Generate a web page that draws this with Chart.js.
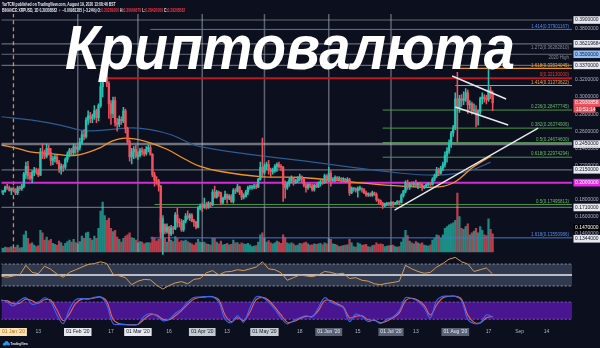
<!DOCTYPE html>
<html>
<head>
<meta charset="utf-8">
<script src="https://cdn.jsdelivr.net/npm/chart.js@4.4.0/dist/chart.umd.min.js"></script>
<style>
  html, body { margin: 0; padding: 0; background: #0b0f1e; }
  canvas { display: block; }
</style>
</head>
<body>
<canvas id="chart" width="600" height="348"></canvas>
<script>
// XRPUSD daily, 26 Dec 2019 .. 19 Aug 2020 (day 0 = 1 Jan 2020)
const firstDay = -6;

const open = [
  .190,.189,.190,.195,.194,.191,
  .193,.192,.188,.194,.193,.196,.210,.219,.208,.205,.212,.214,.213,.209,.236,.234,.231,.240,.235,.226,.228,.230,.224,.216,.219,.218,.227,.233,.238,.235,.242,
  .239,.241,.247,.256,.254,.273,.278,.275,.277,.284,.276,.290,.312,.322,.334,.316,.292,.281,.296,.270,.268,.274,.272,.284,.263,.248,.230,.236,.239,
  .231,.232,.238,.236,.234,.239,.241,.233,.209,.203,.202,.196,.142,.151,.143,.148,.140,.147,.146,.162,.154,.153,.145,.155,.161,.159,.162,.155,.154,.148,.170,
  .173,.172,.174,.171,.176,.174,.189,.183,.189,.188,.177,.182,.186,.182,.184,.178,.191,.190,.195,.189,.183,.184,.189,.194,.194,.195,.196,.195,.204,.218,
  .212,.219,.221,.215,.213,.214,.219,.221,.219,.218,.198,.194,.199,.203,.205,.200,.202,.204,.207,.204,.197,.194,.198,.196,.192,.197,.195,.199,.201,.200,.208,
  .202,.211,.203,.204,.206,.204,.205,.204,.204,.202,.204,.188,.193,.193,.191,.193,.193,.192,.188,.186,.186,.185,.188,.186,.180,.179,.176,.173,.175,.176,
  .175,.177,.175,.176,.178,.177,.185,.190,.200,.195,.199,.198,.199,.197,.199,.198,.194,.196,.198,.199,.198,.204,.208,.215,.211,.217,.221,.232,.237,.246,.258,
  .264,.298,.288,.298,.296,.298,.305,.291,.292,.284,.285,.279,.283,.298,.300,.298,.297,.308,.303
];
const high = [
  .192,.191,.196,.198,.196,.194,
  .195,.193,.196,.196,.198,.212,.224,.225,.212,.214,.218,.217,.216,.240,.246,.238,.245,.244,.240,.231,.233,.232,.226,.222,.221,.229,.236,.240,.240,.245,.244,
  .243,.252,.260,.262,.276,.284,.282,.280,.290,.286,.292,.318,.332,.340,.345,.318,.296,.300,.300,.275,.278,.277,.288,.286,.265,.250,.240,.242,.244,
  .236,.240,.241,.239,.242,.244,.244,.234,.212,.207,.204,.197,.158,.152,.152,.149,.150,.149,.165,.170,.158,.157,.156,.164,.167,.164,.164,.157,.155,.172,.175,
  .176,.182,.177,.178,.177,.192,.196,.191,.190,.189,.183,.190,.187,.186,.186,.193,.193,.198,.196,.191,.187,.191,.196,.197,.197,.198,.198,.205,.224,.252,
  .222,.224,.226,.217,.217,.221,.223,.224,.221,.219,.202,.201,.205,.208,.206,.204,.207,.210,.208,.205,.199,.199,.199,.198,.198,.199,.201,.203,.203,.210,.209,
  .218,.214,.206,.208,.207,.207,.206,.206,.205,.206,.205,.195,.194,.194,.195,.196,.194,.193,.190,.188,.188,.190,.189,.188,.181,.180,.177,.176,.177,.177,
  .178,.178,.177,.179,.179,.187,.191,.202,.203,.200,.201,.201,.203,.200,.200,.199,.197,.199,.200,.200,.206,.210,.218,.217,.219,.224,.236,.241,.250,.260,.267,
  .305,.329,.302,.303,.306,.310,.308,.296,.294,.292,.290,.285,.300,.305,.303,.302,.336,.312,.307
];
const low = [
  .187,.186,.189,.192,.190,.186,
  .190,.186,.186,.191,.191,.194,.205,.204,.203,.200,.208,.210,.207,.208,.228,.228,.229,.232,.220,.221,.224,.222,.212,.210,.213,.216,.224,.230,.232,.232,.234,
  .236,.238,.245,.250,.252,.268,.270,.270,.274,.270,.272,.288,.300,.318,.312,.275,.268,.276,.266,.260,.265,.268,.270,.258,.245,.225,.222,.228,.229,
  .227,.230,.232,.231,.232,.236,.232,.207,.196,.198,.190,.135,.116,.140,.141,.132,.138,.140,.145,.148,.148,.143,.143,.153,.157,.156,.154,.149,.146,.147,.168,
  .166,.170,.169,.170,.171,.173,.182,.182,.184,.174,.175,.180,.176,.180,.177,.176,.187,.189,.186,.180,.181,.183,.186,.192,.192,.193,.193,.194,.203,.206,
  .210,.215,.210,.207,.210,.212,.213,.217,.214,.178,.182,.192,.196,.200,.197,.199,.200,.202,.200,.195,.189,.192,.194,.190,.190,.194,.194,.196,.198,.199,.200,
  .201,.196,.201,.201,.202,.203,.200,.202,.200,.201,.185,.187,.190,.189,.183,.191,.189,.187,.184,.184,.184,.184,.185,.178,.175,.174,.170,.172,.173,.173,
  .173,.172,.174,.175,.174,.176,.183,.188,.192,.192,.196,.195,.195,.193,.195,.191,.193,.195,.196,.196,.197,.202,.206,.208,.210,.214,.218,.224,.234,.241,.254,
  .262,.248,.282,.289,.291,.295,.281,.286,.280,.281,.265,.267,.280,.292,.294,.292,.295,.298,.284
];
const close = [
  .189,.190,.195,.194,.191,.193,
  .192,.188,.194,.193,.196,.210,.219,.208,.205,.212,.214,.213,.209,.236,.234,.231,.240,.235,.226,.228,.230,.224,.216,.219,.218,.227,.233,.238,.235,.242,.239,
  .241,.247,.256,.254,.273,.278,.275,.277,.284,.276,.290,.312,.322,.334,.316,.292,.281,.296,.270,.268,.274,.272,.284,.263,.248,.230,.236,.239,.231,
  .232,.238,.236,.234,.239,.241,.233,.209,.203,.202,.196,.142,.151,.143,.148,.140,.147,.146,.162,.154,.153,.145,.155,.161,.159,.162,.155,.154,.148,.170,.173,
  .172,.174,.171,.176,.174,.189,.183,.189,.188,.177,.182,.186,.182,.184,.178,.191,.190,.195,.189,.183,.184,.189,.194,.194,.195,.196,.195,.204,.218,.212,
  .219,.221,.215,.213,.214,.219,.221,.219,.218,.198,.194,.199,.203,.205,.200,.202,.204,.207,.204,.197,.194,.198,.196,.192,.197,.195,.199,.201,.200,.208,.202,
  .211,.203,.204,.206,.204,.205,.204,.204,.202,.204,.188,.193,.193,.191,.193,.193,.192,.188,.186,.186,.185,.188,.186,.180,.179,.176,.173,.175,.176,.175,
  .177,.175,.176,.178,.177,.185,.190,.200,.195,.199,.198,.199,.197,.199,.198,.194,.196,.198,.199,.198,.204,.208,.215,.211,.217,.221,.232,.237,.246,.258,.264,
  .298,.288,.298,.296,.298,.305,.291,.292,.284,.285,.279,.283,.298,.300,.298,.297,.308,.303,.293
];
// volume, millions XRP
const volume = [
  90,80,110,100,95,120,
  80,110,150,90,100,380,460,300,180,200,150,120,140,480,420,260,330,250,280,190,170,150,240,200,130,190,230,260,220,280,210,
  180,230,350,300,420,440,300,260,350,300,520,900,1100,800,700,750,520,450,480,330,280,220,300,350,380,420,320,300,260,
  200,230,220,180,200,210,200,330,300,240,280,750,800,300,220,320,260,230,340,300,220,250,240,260,230,200,180,150,200,280,220,
  200,220,180,170,150,300,300,220,180,240,160,170,190,160,170,260,200,210,170,200,180,170,190,160,120,130,140,220,380,420,
  300,220,250,200,180,200,240,220,190,380,320,200,180,200,180,140,150,190,180,200,220,180,150,160,180,170,180,190,160,200,180,
  300,280,180,170,150,120,130,140,150,160,280,200,120,110,200,180,150,160,170,120,110,140,150,200,170,180,170,120,130,140,
  140,150,120,110,120,220,300,480,360,240,200,180,230,200,180,200,150,140,130,160,260,300,380,360,300,380,520,560,600,620,640,
  700,1300,780,520,500,560,620,380,420,460,520,420,560,480,380,360,730,500,400
];

// moving averages, read at sample days
const maFastDays = [-6, 2, 8, 18, 30, 42, 47, 54, 64, 74, 83, 90, 100, 119, 139, 162, 187, 205, 213, 221, 230];
const maFast = [.244, .240, .236, .234, .232, .241, .248, .252, .248, .239, .227, .219, .213, .207, .206, .201, .196, .195, .201, .217, .231];
const maSlowDays = [-6, 9, 23, 33, 42, 57, 66, 76, 90, 138, 187, 207, 220, 230];
const maSlow = [.277, .273, .267, .261, .261, .264, .262, .256, .242, .226, .211, .209, .214, .224];

// RSI and stoch RSI, every 3rd day from day -6
const rsi = [47,45,48,50,72,56,53,70,63,52, 45,56,62,68,74,76,80,76,52,48, 44,28,36,40,39,27,18,26,32,35,
             30,40,42,55,60,50,57,58,62,60, 64,68,80,64,62,55,38,44,50,48, 46,50,58,56,52,54,42,44,38,36,
             30,28,31,33,36,72,64,58,54,56, 68,76,86,90,80,75,58,62,66,52];
const stochK = [88,80,66,85,95,72,78,95,80,35, 5,55,88,92,90,96,98,70,5,2, 1,0,3,30,40,32,15,20,40,55,
                80,96,97,99,98,80,20,8,32,10, 60,98,96,80,55,25,4,15,25,32, 28,60,95,80,70,60,12,38,30,12,
                18,5,20,28,50,95,92,82,60,25, 85,100,100,100,85,20,5,8,35,28];
const stochD = [85,84,74,76,90,84,76,88,86,52, 15,38,75,90,91,94,97,82,20,4, 2,1,2,20,36,35,20,18,32,50,
                72,90,96,98,98,88,35,12,25,16, 45,88,96,86,62,35,10,12,22,30, 30,50,85,85,74,63,25,30,32,18,
                16,8,14,25,42,85,93,86,68,35, 70,95,100,100,90,35,10,7,25,30];

// drawn horizontal levels
const levelPrice = [.39, .379, .3622, .35, .337, .3335, .322, .3135, .2848, .2637, .245, .2467, .2297, .215, .20, .1745, .171, .1355];
const levelFrom  = [-6, 66, -6, -6, -6, 213, 45, 213, 178, 178, -6, 178, 178, -6, -6, 68, -6, 66];
const levelKind  = ['gray','blue','gray','gray','gray','orange','red','orange','green','green','grayBold','green','green','gray','magenta','green','gray','blue'];
const levelText  = ['', '1.414(0.37901167)', '1.272(0.36282810)', '2020 High', '', '1.618(0.33534045)', '0(0.32130000)', '1.414(0.31373622)',
                    '0.236(0.28477745)', '0.382(0.26374906)', '', '0.5(0.24674600)', '0.618(0.22974294)', '', '', '0.5(0.17495813)', '', '1.618(0.13550986)'];

// trend lines [day, price] pairs
const trendFrom = [[183.7, .168], [211.5, .3246], [213, .2884]];
const trendTo   = [[252.9, .2638], [237.5, .2977], [238.5, .2673]];

// vertical month markers
const monthDays = [31, 60, 91, 121, 152, 182];
const yearStart = 0;

// axis labels
const timeTicks = [0, 12, 31, 47, 60, 75, 91, 103, 121, 138, 152, 166, 182, 194, 213, 229, 244, 257];
const timeLabels = ["01 Jan '20", '13', "01 Feb '20", '17', "01 Mar '20", '16', "01 Apr '20", '13', "01 May '20", '18',
                    "01 Jun '20", '15', "01 Jul '20", '13', "01 Aug '20", '17', 'Sep', '14'];
const timeKinds = ['jan','','white','','white','','light','','light','','dark','','dark','','dark','','',''];

const priceTicks = [.39, .38, .3622, .35, .337, .32, .30, .29308582, .28, .26, .245, .24, .22, .215, .20, .18, .171, .16, .147, .14, .1344];
const priceLabels = ['0.3900000','0.3800000','0.36219684','0.3500000','0.3370000','0.3200000','0.3000000','0.2930858','0.2800000','0.2600000',
                     '0.2450000','0.2400000','0.2200000','0.2150000','0.2000000','0.1800000','0.1710000','0.1600000','0.1470000','0.1400000','0.1344000'];
const priceKinds = ['white','plain','white','blue','white','plain','plain','red','plain','plain',
                    'white','plain','plain','white','magenta','plain','white','plain','black','plain','white'];
const countdown = '10:51:14';

const rsiTicks = [100, 75, 50, 25];
const rsiKinds = ['plain', 'plain', 'white', 'plain'];
const stochTicks = [80, 40, 0];

// ---------- styling / layout ----------
const FONT = '"Liberation Sans", Arial, sans-serif';
const BG = '#0b0f1e';
const UP = '#25c2b2', DOWN = '#f1505d';
const TOP = 14, BOTTOM = 327;

Chart.defaults.font.family = FONT;
Chart.defaults.font.size = 5;
Chart.defaults.color = '#b2b5be';

// value range that puts vHi at pixel yHi and vLo at yLo
function fitRange(vHi, yHi, vLo, yLo) {
  const k = (yLo - yHi) / (vHi - vLo);
  return { min: vLo - (BOTTOM - yLo) / k, max: vHi + (yHi - TOP) / k };
}
const dayPx = (455 - 12) / 213;
const X_MIN = -12 / dayPx, X_MAX = 213 + (572 - 455) / dayPx;
const priceRange = fitRange(0.39, 20, 0.14, 234);
const volRange = fitRange(1300, 193, 0, 252);
const rsiRange = fitRange(100, 253, 25, 286);
const stochRange = fitRange(80, 302, 0, 325);

const boxStyle = {
  plain:   { fg: '#b2b5be', bg: null },
  white:   { fg: '#131722', bg: '#e6e8ee' },
  blue:    { fg: '#0d1b3a', bg: '#8fbcf5' },
  red:     { fg: '#ffffff', bg: '#f0525f' },
  magenta: { fg: '#ffffff', bg: '#e62ce8' },
  black:   { fg: '#ffffff', bg: '#000000' },
  jan:     { fg: '#b86a10', bg: '#fbe3b8' },
  light:   { fg: '#131722', bg: '#c6cad3' },
  dark:    { fg: '#e6e8ee', bg: '#5b6477' },
  '':      { fg: '#b2b5be', bg: null }
};
const lineStyle = {
  gray:     { color: 'rgba(178,181,190,0.55)', width: 1.2, text: '#8a8e99' },
  grayBold: { color: 'rgba(178,181,190,0.6)', width: 2.5, text: '#8a8e99' },
  blue:     { color: '#3b7ad6', width: 1, text: '#4f8fe8' },
  orange:   { color: '#e3962a', width: 1.2, text: '#f3a53a' },
  red:      { color: '#c0161e', width: 2, text: '#ef3b3b' },
  green:    { color: '#4b9a47', width: 1, text: '#66bb6a' },
  magenta:  { color: '#d62ad9', width: 2, text: '#e040fb' }
};

const days = open.map((_, i) => firstDay + i);
const sampleDays = rsi.map((_, i) => firstDay + 3 * i);
const isUp = i => close[i] >= open[i];
const flat = v => [{ x: -10, y: v }, { x: 280, y: v }];
const lineDs = (data, color, width, order, extra) => Object.assign({
  type: 'line', yAxisID: 'y', data, borderColor: color, borderWidth: width, pointRadius: 0, fill: false, order
}, extra || {});

const datasets = [];

// RSI band
datasets.push(lineDs(flat(75), 'rgba(200,205,215,0.65)', 1, 100, { yAxisID: 'rsi', borderDash: [2, 2] }));
datasets.push(lineDs(flat(25), 'rgba(200,205,215,0.65)', 1, 101, { yAxisID: 'rsi', borderDash: [2, 2], fill: '-1', backgroundColor: 'rgba(86,100,126,0.5)' }));
datasets.push(lineDs(flat(50), '#e8eaf0', 1.5, 99, { yAxisID: 'rsi' }));
// stoch band
datasets.push(lineDs(flat(80), 'rgba(180,185,200,0.5)', 1, 100, { yAxisID: 'stoch', borderDash: [2, 2] }));
datasets.push(lineDs(flat(20), 'rgba(180,185,200,0.5)', 1, 101, { yAxisID: 'stoch', borderDash: [2, 2], fill: '-1', backgroundColor: '#4a1590' }));

// volume
datasets.push({
  type: 'bar', yAxisID: 'vol', order: 90, grouped: false, barThickness: 1.6, borderWidth: 0,
  data: days.map((d, i) => ({ x: d, y: volume[i] })),
  backgroundColor: c => isUp(c.dataIndex) ? 'rgba(34,170,158,0.8)' : 'rgba(230,72,86,0.8)'
});

// vertical markers
monthDays.forEach(d => datasets.push(lineDs([{ x: d, y: 0.398 }, { x: d, y: 0.119 }], 'rgba(160,165,178,0.55)', 1.5, 85)));
datasets.push(lineDs([{ x: yearStart, y: 0.398 }, { x: yearStart, y: 0.119 }], '#c98a5c', 1.3, 85, { borderDash: [4, 3] }));

// horizontal levels
levelPrice.forEach((p, i) => {
  const s = lineStyle[levelKind[i]];
  datasets.push(lineDs([{ x: levelFrom[i], y: p }, { x: 280, y: p }], s.color, s.width, 80));
});

// moving averages
datasets.push(lineDs(maSlowDays.map((d, i) => ({ x: d, y: maSlow[i] })), '#2c5c93', 1.2, 70, { tension: 0.4 }));
datasets.push(lineDs(maFastDays.map((d, i) => ({ x: d, y: maFast[i] })), '#f39422', 1.3, 69, { tension: 0.4 }));

// candles
datasets.push({
  type: 'bar', yAxisID: 'y', order: 60, grouped: false, barThickness: 0.9, borderWidth: 0,
  data: days.map((d, i) => ({ x: d, y: [low[i], high[i]] })),
  backgroundColor: c => isUp(c.dataIndex) ? UP : DOWN
});
datasets.push({
  type: 'bar', yAxisID: 'y', order: 55, grouped: false, barThickness: 1.7, borderWidth: 0, minBarLength: 0.8,
  data: days.map((d, i) => ({ x: d, y: [open[i], close[i]] })),
  backgroundColor: c => isUp(c.dataIndex) ? UP : DOWN
});

// trend lines
trendFrom.forEach((a, i) => datasets.push(lineDs([{ x: a[0], y: a[1] }, { x: trendTo[i][0], y: trendTo[i][1] }], '#e9eaee', 1.4, 50)));

// oscillators
datasets.push(lineDs(sampleDays.map((d, i) => ({ x: d, y: rsi[i] })), '#d69a55', 1, 40, { yAxisID: 'rsi' }));
datasets.push(lineDs(sampleDays.map((d, i) => ({ x: d, y: stochD[i] })), '#f2604e', 1.1, 41, { yAxisID: 'stoch', tension: 0.35 }));
datasets.push(lineDs(sampleDays.map((d, i) => ({ x: d, y: stochK[i] })), '#2f6bff', 1.1, 40, { yAxisID: 'stoch', tension: 0.35 }));

// ---------- axes ----------
function labelAxis(range, ticks, labels, kinds, width, weight) {
  return {
    position: 'right', weight, min: range.min, max: range.max, bounds: 'data',
    grid: { display: false, drawTicks: false }, border: { display: false },
    afterFit: s => { s.width = width; },
    afterBuildTicks: s => { s.ticks = ticks.map(v => ({ value: v })); },
    ticks: {
      autoSkip: false, padding: 3, font: { size: 5 },
      callback: (v, i) => labels[i],
      color: c => boxStyle[kinds[c.index]].fg,
      showLabelBackdrop: c => !!boxStyle[kinds[c.index]].bg,
      backdropColor: c => boxStyle[kinds[c.index]].bg || 'rgba(0,0,0,0)',
      backdropPadding: { x: 1.5, y: 0.8 }
    }
  };
}

const bgPlugin = {
  id: 'bg',
  beforeDraw(chart) {
    const { ctx, width, height } = chart;
    ctx.save();
    ctx.fillStyle = BG;
    ctx.fillRect(0, 0, width, height);
    ctx.restore();
  }
};

// draw text squeezed horizontally, the way the small TradingView captions look
function squeezed(ctx, text, x, y, sx) {
  ctx.save();
  ctx.translate(x, y);
  ctx.scale(sx, 1);
  ctx.fillText(text, 0, 0);
  const w = ctx.measureText(text).width * sx;
  ctx.restore();
  return w;
}

const textPlugin = {
  id: 'texts',
  afterDraw(chart) {
    const { ctx, chartArea } = chart;
    const ys = chart.scales.y;
    ctx.save();

    // level captions
    ctx.font = `4.5px ${FONT}`;
    ctx.textAlign = 'right';
    levelPrice.forEach((p, i) => {
      if (!levelText[i]) return;
      const y = ys.getPixelForValue(p);
      const below = levelKind[i].startsWith('gray');
      ctx.fillStyle = lineStyle[levelKind[i]].text;
      ctx.textBaseline = below ? 'top' : 'bottom';
      ctx.fillText(levelText[i], chartArea.right - 3, below ? y + 1.5 : y - 0.8);
    });

    // countdown under the last price
    const yLast = ys.getPixelForValue(close[close.length - 1]) + 6.5;
    ctx.fillStyle = boxStyle.red.bg;
    ctx.fillRect(chartArea.right + 1.5, yLast - 3, 22, 6);
    ctx.fillStyle = '#fff';
    ctx.font = `5px ${FONT}`;
    ctx.textAlign = 'left';
    ctx.textBaseline = 'middle';
    ctx.fillText(countdown, chartArea.right + 4, yLast);

    // header
    ctx.textBaseline = 'middle';
    ctx.font = `bold 4.6px ${FONT}`;
    ctx.fillStyle = '#e8eaf0';
    squeezed(ctx, 'YarTCM published on TradingView.com, August 19, 2020 13:08:46 BST', 2, 4.5, 0.74);
    const segs = [
      ['BINANCE:XRPUSD, 1D 0.29308582 ', '#e8eaf0'], ['\u25BC', '#f23645'], [' \u22120.00981285 (\u22123.24%) O:', '#e8eaf0'],
      ['0.30289000', '#f23645'], [' H:', '#e8eaf0'], ['0.30666670', '#f23645'], [' L:', '#e8eaf0'],
      ['0.28420000', '#f23645'], [' C:', '#e8eaf0'], ['0.29308582', '#f23645']
    ];
    let x = 2;
    segs.forEach(([t, c]) => {
      ctx.fillStyle = c;
      x += squeezed(ctx, t, x, 10.5, 0.73);
    });

    // logo
    ctx.fillStyle = '#2196f3';
    [[4.5, 344.2, 1.6], [6.6, 342.9, 2], [8.5, 344.2, 1.4]].forEach(([cx, cy, r]) => {
      ctx.beginPath(); ctx.arc(cx, cy, r, 0, Math.PI * 2); ctx.fill();
    });
    ctx.fillStyle = '#e8eaf0';
    ctx.font = `bold 4.2px ${FONT}`;
    squeezed(ctx, 'TradingView', 10.5, 343.8, 0.7);

    // big title
    const title = '\u041A\u0440\u0438\u043F\u0442\u043E\u0432\u0430\u043B\u044E\u0442\u0430';
    ctx.font = `italic bold 63px ${FONT}`;
    const w = ctx.measureText(title).width;
    ctx.translate(65, 69);
    ctx.scale(450 / w, 1);
    ctx.fillStyle = '#ffffff';
    ctx.textAlign = 'left';
    ctx.textBaseline = 'alphabetic';
    ctx.fillText(title, 0, 0);

    ctx.restore();
  }
};

new Chart(document.getElementById('chart'), {
  type: 'line',
  data: { datasets },
  options: {
    responsive: false,
    animation: false,
    devicePixelRatio: 1,
    layout: { padding: { top: TOP, left: 0, right: 0, bottom: 0 } },
    plugins: { legend: { display: false }, tooltip: { enabled: false } },
    elements: { point: { radius: 0 } },
    scales: {
      x: {
        type: 'linear', min: X_MIN, max: X_MAX, offset: false, bounds: 'data',
        grid: { display: false, drawTicks: false }, border: { display: false },
        afterFit: s => { s.height = 348 - BOTTOM; },
        afterBuildTicks: s => { s.ticks = timeTicks.map(v => ({ value: v })); },
        ticks: {
          autoSkip: false, maxRotation: 0, padding: 2, font: { size: 5 },
          callback: (v, i) => timeLabels[i],
          color: c => boxStyle[timeKinds[c.index]].fg,
          showLabelBackdrop: c => !!boxStyle[timeKinds[c.index]].bg,
          backdropColor: c => boxStyle[timeKinds[c.index]].bg || 'rgba(0,0,0,0)',
          backdropPadding: { x: 2, y: 1 }
        }
      },
      y: labelAxis(priceRange, priceTicks, priceLabels, priceKinds, 28, 1),
      rsi: labelAxis(rsiRange, rsiTicks, rsiTicks.map(v => v.toFixed(2)), rsiKinds, 0, 0),
      stoch: labelAxis(stochRange, stochTicks, stochTicks.map(v => v.toFixed(2)), stochTicks.map(() => 'plain'), 0, 0),
      vol: { display: false, min: volRange.min, max: volRange.max, bounds: 'data' }
    }
  },
  plugins: [bgPlugin, textPlugin]
});
</script>
</body>
</html>
